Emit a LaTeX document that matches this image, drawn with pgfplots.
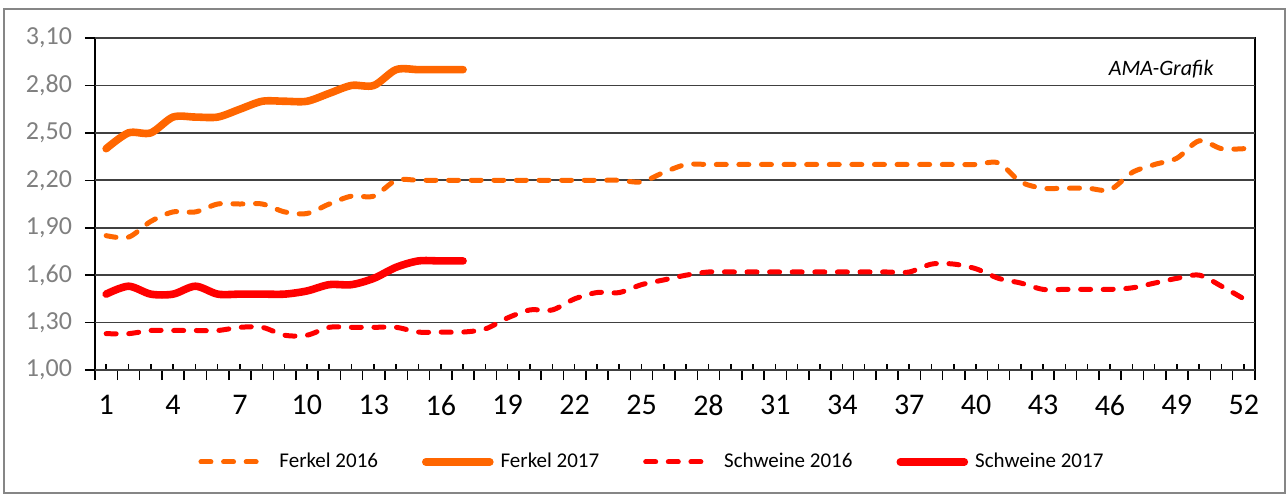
\documentclass[border=0pt]{standalone}
\usepackage{pgfplots}
\pgfplotsset{compat=1.18}
\usepackage{fontspec}
\setmainfont{Carlito}
\definecolor{ferkel}{RGB}{255,102,0}
\definecolor{schwein}{RGB}{255,0,0}
\definecolor{gridc}{RGB}{64,64,64}
\definecolor{ylab}{RGB}{128,128,128}
\definecolor{framec}{RGB}{134,134,134}
\pgfplotsset{
  dashlegend/.style={legend image code/.code={\draw[##1] (0pt,0pt) -- (30pt,0pt);}},
  solidlegend/.style={legend image code/.code={\draw[##1] (0pt,0pt) -- (32pt,0pt);}},
}
\begin{document}
\begin{tikzpicture}
\path[use as bounding box] (0pt,0pt) rectangle (643.5pt,-247.5pt);
\draw[framec, line width=0.6pt] (2pt,-4.5pt) rectangle (642.5pt,-246.5pt);
\begin{axis}[
  at={(47.5pt,-185pt)}, anchor=south west,
  scale only axis, width=580pt, height=166pt,
  xmin=0.5, xmax=52.5, ymin=1, ymax=3.1,
  axis line style={black, line width=0.9pt},
  ytick={1,1.3,1.6,1.9,2.2,2.5,2.8,3.1},
  ymajorgrids, grid style={gridc, line width=0.9pt},
  ytick pos=left, xtick pos=bottom,
  tick style={black, line width=0.8pt},
  tick align=inside, major tick length=3pt,
  yticklabel style={ylab, font=\fontsize{13}{15}\selectfont, xshift=-8pt,
    /pgf/number format/.cd, fixed, fixed zerofill, precision=2, use comma, assume math mode=true},
  extra y ticks={1,1.3,1.6,1.9,2.2,2.5,2.8,3.1},
  extra y tick labels={},
  extra y tick style={tick align=outside, major tick length=5pt},
  xtick={1,...,52},
  xticklabels={1,,,4,,,7,,,10,,,13,,,16,,,19,,,22,,,25,,,28,,,31,,,34,,,37,,,40,,,43,,,46,,,49,,,52},
  xticklabel style={black, font=\fontsize{15}{17}\selectfont, yshift=-9pt},
  extra x ticks={0.5,1.5,...,52.5},
  extra x tick labels={},
  extra x tick style={tick align=outside, major tick length=5pt},
  legend columns=4,
  legend style={draw=none, fill=none, at={(0.481,-0.277)}, anchor=center,
    font=\fontsize{10.5}{12}\selectfont,
    /tikz/column 1/.style={column sep=6pt},
    /tikz/column 2/.style={column sep=20pt},
    /tikz/column 3/.style={column sep=1.5pt},
    /tikz/column 4/.style={column sep=20pt},
    /tikz/column 5/.style={column sep=6pt},
    /tikz/column 6/.style={column sep=20pt},
    /tikz/column 7/.style={column sep=1.5pt}},
]
\addplot[ferkel, line width=2.5pt, smooth, line cap=round, dash pattern=on 5pt off 6.3pt, dashlegend] coordinates {
(1,1.85)(2,1.84)(3,1.94)(4,2.00)(5,2.00)(6,2.05)(7,2.05)(8,2.05)(9,2.00)(10,1.99)
(11,2.05)(12,2.10)(13,2.10)(14,2.20)(15,2.20)(16,2.20)(17,2.20)(18,2.20)(19,2.20)(20,2.20)
(21,2.20)(22,2.20)(23,2.20)(24,2.20)(25,2.19)(26,2.25)(27,2.30)(28,2.30)(29,2.30)(30,2.30)
(31,2.30)(32,2.30)(33,2.30)(34,2.30)(35,2.30)(36,2.30)(37,2.30)(38,2.30)(39,2.30)(40,2.30)
(41,2.31)(42,2.19)(43,2.15)(44,2.15)(45,2.15)(46,2.14)(47,2.25)(48,2.30)(49,2.34)(50,2.45)
(51,2.40)(52,2.40)};
\addlegendentry{Ferkel 2016}
\addplot[ferkel, line width=3.8pt, smooth, line cap=round, solidlegend] coordinates {
(1,2.40)(2,2.50)(3,2.50)(4,2.60)(5,2.60)(6,2.60)(7,2.65)(8,2.70)(9,2.70)(10,2.70)
(11,2.75)(12,2.80)(13,2.80)(14,2.90)(15,2.90)(16,2.90)(17,2.90)};
\addlegendentry{Ferkel 2017}
\addplot[schwein, line width=2.5pt, smooth, line cap=round, dash pattern=on 5pt off 6.3pt, dashlegend] coordinates {
(1,1.23)(2,1.23)(3,1.25)(4,1.25)(5,1.25)(6,1.25)(7,1.27)(8,1.27)(9,1.22)(10,1.22)
(11,1.27)(12,1.27)(13,1.27)(14,1.27)(15,1.24)(16,1.24)(17,1.24)(18,1.26)(19,1.33)(20,1.38)
(21,1.38)(22,1.45)(23,1.49)(24,1.49)(25,1.54)(26,1.57)(27,1.60)(28,1.62)(29,1.62)(30,1.62)
(31,1.62)(32,1.62)(33,1.62)(34,1.62)(35,1.62)(36,1.62)(37,1.62)(38,1.67)(39,1.67)(40,1.64)
(41,1.58)(42,1.55)(43,1.51)(44,1.51)(45,1.51)(46,1.51)(47,1.52)(48,1.55)(49,1.58)(50,1.60)
(51,1.53)(52,1.45)};
\addlegendentry{Schweine 2016}
\addplot[schwein, line width=3.8pt, smooth, line cap=round, solidlegend] coordinates {
(1,1.48)(2,1.53)(3,1.48)(4,1.48)(5,1.53)(6,1.48)(7,1.48)(8,1.48)(9,1.48)(10,1.50)
(11,1.54)(12,1.54)(13,1.58)(14,1.65)(15,1.69)(16,1.69)(17,1.69)};
\addlegendentry{Schweine 2017}
\node[font=\fontsize{11}{13}\selectfont\itshape, anchor=center] at (axis cs:48.3,2.9) {AMA-Grafik};
\end{axis}
\end{tikzpicture}
\end{document}
